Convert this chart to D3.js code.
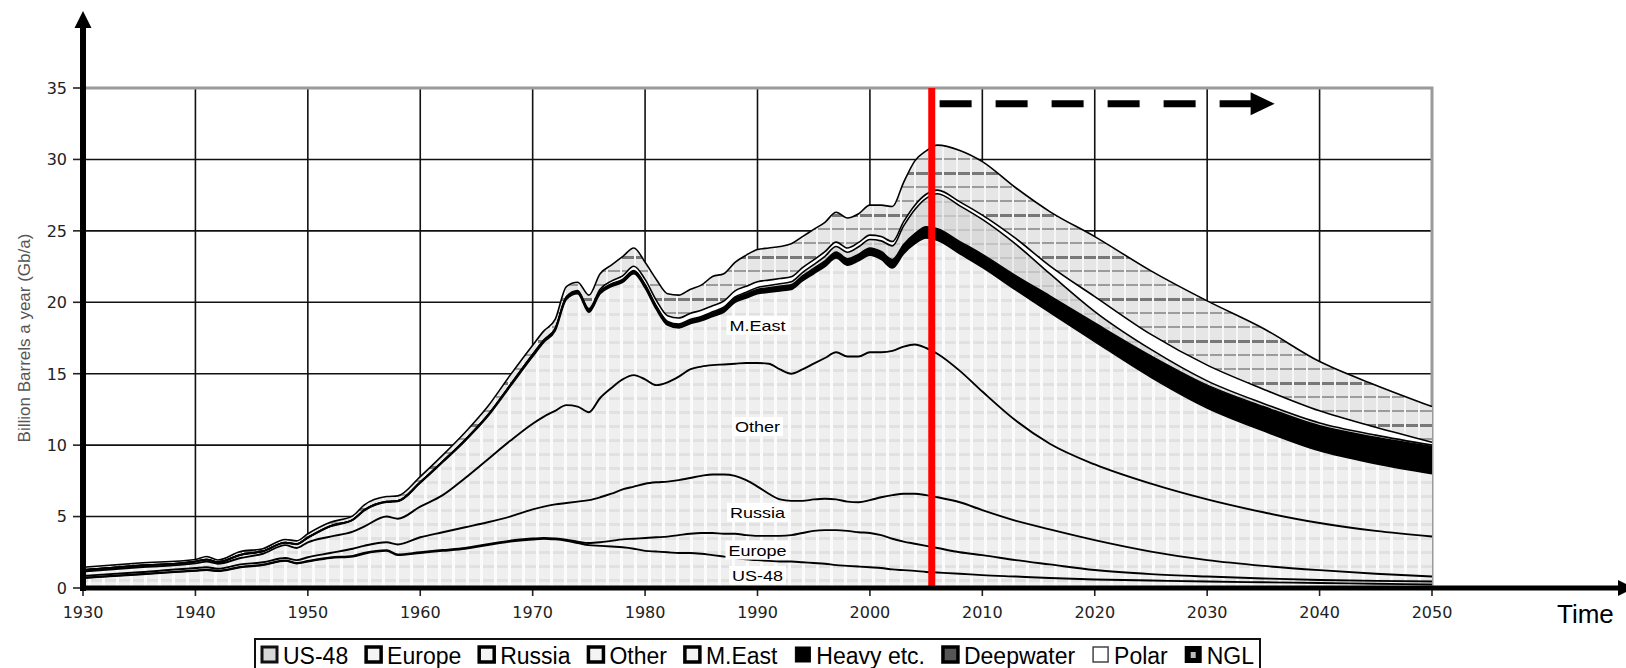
<!DOCTYPE html>
<html><head><meta charset="utf-8">
<script src="https://cdn.jsdelivr.net/npm/d3@7"></script>
<style>html,body{margin:0;padding:0;background:#fff;overflow:hidden}</style>
</head><body>
<svg id="chart" width="1626" height="668"></svg>
<script>
// ---------------- data (Gb/a) ----------------
const years = [1930,1935,1940,1941,1942,1944,1946,1948,1949,1950,
  1952,1954,1955,1957,1958,1960,1962,1964,1966,1968,
  1970,1971,1972,1973,1974,1975,1976,1977,1978,1979,
  1980,1981,1982,1983,1984,1985,1986,1987,1988,1989,
  1990,1991,1992,1993,1994,1995,1996,1997,1998,1999,
  2000,2001,2002,2003,2004,2005,2006,
  2008,2010,2013,2016,2020,2025,2030,2035,2040,2045,2050];
const us48 = [0.70,0.95,1.20,1.25,1.18,1.45,1.60,1.90,1.72,1.85,
  2.10,2.20,2.40,2.60,2.30,2.45,2.60,2.75,3.00,3.25,
  3.40,3.45,3.40,3.30,3.15,3.00,2.95,2.90,2.85,2.75,
  2.60,2.55,2.50,2.45,2.45,2.40,2.30,2.20,2.10,2.00,
  1.95,1.90,1.85,1.85,1.80,1.75,1.70,1.60,1.55,1.50,
  1.45,1.40,1.30,1.25,1.20,1.12,1.08,
  1.00,0.90,0.80,0.70,0.60,0.52,0.45,0.40,0.35,0.30,0.25];
const europe = [0.02,0.02,0.03,0.03,0.03,0.03,0.03,0.03,0.03,0.04,
  0.04,0.05,0.05,0.05,0.05,0.06,0.06,0.06,0.06,0.06,
  0.06,0.06,0.07,0.08,0.10,0.15,0.25,0.40,0.55,0.70,
  0.90,1.00,1.10,1.25,1.35,1.45,1.55,1.60,1.70,1.70,
  1.70,1.75,1.80,1.85,2.05,2.25,2.35,2.45,2.45,2.40,
  2.40,2.30,2.15,2.00,1.90,1.83,1.72,
  1.50,1.40,1.15,0.95,0.66,0.45,0.35,0.27,0.21,0.20,0.20];
const russia = [0.13,0.13,0.17,0.17,0.14,0.17,0.17,0.17,0.20,0.26,
  0.31,0.50,0.50,0.55,0.70,1.04,1.24,1.44,1.54,1.69,
  2.04,2.19,2.38,2.57,2.80,3.00,3.15,3.30,3.50,3.65,
  3.80,3.85,3.85,3.85,3.90,4.00,4.10,4.15,4.05,3.85,
  3.45,2.95,2.55,2.40,2.25,2.20,2.20,2.15,2.05,2.10,
  2.30,2.65,3.05,3.35,3.50,3.55,3.55,
  3.50,3.15,2.75,2.45,2.09,1.58,1.15,0.88,0.69,0.50,0.35];
const other = [0.30,0.35,0.32,0.40,0.35,0.45,0.60,0.90,0.85,1.05,
  1.15,1.20,1.35,1.80,1.80,2.15,2.60,3.45,4.40,5.30,
  6.00,6.30,6.55,6.85,6.65,6.15,6.95,7.40,7.70,7.80,
  7.30,6.80,6.95,7.25,7.60,7.65,7.65,7.70,7.85,8.20,
  8.65,9.10,9.10,8.90,9.20,9.50,9.85,10.30,10.15,10.20,
  10.35,10.15,10.10,10.30,10.45,10.30,10.05,
  9.20,8.30,7.00,6.00,5.30,4.75,4.25,3.75,3.30,3.00,2.80];
const mEast = [0.10,0.10,0.12,0.13,0.10,0.20,0.15,0.15,0.25,0.30,
  0.70,0.80,1.10,1.00,1.20,1.65,2.30,2.60,3.00,3.80,
  4.70,5.20,5.60,7.40,7.90,7.00,7.30,7.10,6.80,7.10,
  6.40,5.30,4.00,3.40,3.20,3.20,3.40,3.65,4.30,4.55,
  4.85,5.00,5.50,5.90,6.20,6.30,6.40,6.60,6.40,6.70,
  6.80,6.50,5.80,6.50,7.05,7.70,7.95,
  8.20,8.70,9.15,9.20,8.60,7.45,6.40,5.70,5.05,4.70,4.40];
const heavy = [0.02,0.02,0.02,0.02,0.02,0.03,0.03,0.03,0.03,0.04,
  0.04,0.04,0.05,0.05,0.05,0.06,0.07,0.08,0.09,0.10,
  0.12,0.12,0.13,0.14,0.15,0.15,0.16,0.16,0.17,0.18,
  0.20,0.20,0.20,0.22,0.23,0.24,0.25,0.26,0.27,0.28,
  0.30,0.31,0.32,0.33,0.35,0.37,0.40,0.42,0.45,0.47,
  0.50,0.55,0.60,0.65,0.70,0.78,0.80,
  0.85,0.90,1.00,1.15,1.30,1.50,1.60,1.70,1.75,1.85,1.90];
const deepwater = [0,0,0,0,0,0,0,0,0,0,
  0,0,0,0,0,0,0,0,0,0,
  0,0,0,0,0,0,0.01,0.02,0.03,0.04,
  0.05,0.05,0.06,0.06,0.07,0.07,0.08,0.09,0.10,0.12,
  0.14,0.16,0.18,0.20,0.23,0.27,0.32,0.38,0.45,0.52,
  0.60,0.75,0.95,1.30,1.70,2.00,2.45,
  2.50,2.45,2.20,1.55,0.80,0.45,0.30,0.22,0.20,0.15,0.10];
const polar = [0,0,0,0,0,0,0,0,0,0,
  0,0,0,0,0,0,0,0,0,0.02,
  0.05,0.05,0.05,0.06,0.08,0.10,0.15,0.20,0.25,0.30,
  0.35,0.38,0.40,0.42,0.42,0.43,0.43,0.43,0.43,0.42,
  0.40,0.38,0.36,0.35,0.34,0.33,0.32,0.31,0.30,0.30,
  0.30,0.30,0.30,0.30,0.30,0.28,0.25,
  0.28,0.30,0.40,0.55,1.05,1.05,1.10,1.00,0.85,0.55,0.20];
const ngl = [0.18,0.18,0.14,0.20,0.14,0.22,0.17,0.22,0.22,0.26,
  0.26,0.26,0.35,0.35,0.35,0.39,0.43,0.52,0.61,0.68,
  0.63,0.63,0.62,0.70,0.57,0.95,1.08,1.12,1.35,1.28,
  1.20,1.47,1.54,1.60,1.68,1.76,2.04,1.92,2.00,2.18,
  2.26,2.25,2.24,2.32,2.18,2.13,2.06,2.09,2.10,2.01,
  2.10,2.20,2.45,2.75,3.10,3.04,3.15,
  3.60,3.75,3.55,3.80,4.20,4.45,4.50,4.25,3.45,2.95,2.50];

const seriesNames = ["US-48","Europe","Russia","Other","M.East","Heavy etc.","Deepwater","Polar","NGL"];
const seriesValues = [us48, europe, russia, other, mEast, heavy, deepwater, polar, ngl];
const xTicks = [1930,1940,1950,1960,1970,1980,1990,2000,2010,2020,2030,2040,2050];
const yTicks = [0,5,10,15,20,25,30,35];
const areaLabelNames = ["M.East","Other","Russia","Europe","US-48"];
const areaLabelYears = [1990,1990,1990,1990,1990];
const areaLabelValues = [18.4,11.3,5.3,2.65,0.9];
const forecastYear = 2005.5;
const arrowFromYear = 2006.2, arrowToYear = 2036, arrowLevel = 33.9;
const yAxisTitle = "Billion Barrels a year (Gb/a)";
const xAxisTitle = "Time";

// ---------------- drawing ----------------
const svg = d3.select("#chart");
const x = d3.scaleLinear().domain([1930, 2050]).range([83, 1432]);
const y = d3.scaleLinear().domain([0, 35]).range([588, 88]);
const SANS = "'Liberation Sans', Arial, sans-serif";
const TICKFONT = "'DejaVu Sans', Verdana, sans-serif";

const rows = years.map((yr, i) => {
  const r = {year: yr};
  seriesNames.forEach((n, k) => r[n] = seriesValues[k][i]);
  return r;
});
const stacked = d3.stack().keys(seriesNames)(rows);

// patterns
const defs = svg.append("defs");
function pat(id, w, h) {
  return defs.append("pattern").attr("id", id).attr("patternUnits", "userSpaceOnUse")
    .attr("width", w).attr("height", h);
}
const pb = pat("pBase", 14, 14);
pb.append("rect").attr("width", 14).attr("height", 14).attr("fill", "#efefef");
pb.append("rect").attr("y", 5).attr("width", 14).attr("height", 3).attr("fill", "#e1e1e1");
pb.append("rect").attr("x", 4).attr("width", 3).attr("height", 14).attr("fill", "#fbfbfb");

const pd = pat("pDeep", 14, 14);
pd.append("rect").attr("width", 14).attr("height", 14).attr("fill", "#dadada");
pd.append("rect").attr("y", 5).attr("width", 14).attr("height", 2).attr("fill", "#c4c4c4");
pd.append("rect").attr("x", 4).attr("width", 2).attr("height", 14).attr("fill", "#eaeaea");

const pn = pat("pNGL", 14, 42);
pn.append("rect").attr("width", 14).attr("height", 42).attr("fill", "#e6e6e6");
pn.append("rect").attr("y", 4).attr("width", 14).attr("height", 3).attr("fill", "#787878");
pn.append("rect").attr("y", 18).attr("width", 14).attr("height", 2).attr("fill", "#9c9c9c");
pn.append("rect").attr("y", 32).attr("width", 14).attr("height", 2).attr("fill", "#9c9c9c");
pn.append("rect").attr("x", 4).attr("width", 2).attr("height", 42).attr("fill", "#f6f6f6");

const fills = ["url(#pBase)","url(#pBase)","url(#pBase)","url(#pBase)","url(#pBase)",
  "#000","url(#pDeep)","#ffffff","url(#pNGL)"];

// grid
const grid = svg.append("g");
yTicks.filter(v => v > 0 && v < 35).forEach(v => {
  grid.append("line").attr("x1", x(1930)).attr("x2", x(2050)).attr("y1", y(v)).attr("y2", y(v))
    .attr("stroke", "#111").attr("stroke-width", 1.6);
});
xTicks.filter(t => t > 1930 && t < 2050).forEach(t => {
  grid.append("line").attr("x1", x(t)).attr("x2", x(t)).attr("y1", y(35)).attr("y2", y(0))
    .attr("stroke", "#111").attr("stroke-width", 1.6);
});
grid.append("path").attr("d", `M${x(1930)},${y(35)} H${x(2050)} V${y(0)}`)
  .attr("fill", "none").attr("stroke", "#9a9a9a").attr("stroke-width", 3);

// areas
const area = d3.area().x(d => x(d.data.year)).y0(d => y(d[0])).y1(d => y(d[1])).curve(d3.curveMonotoneX);
const line = d3.line().x(d => x(d.data.year)).y(d => y(d[1])).curve(d3.curveMonotoneX);
svg.append("g").selectAll("path").data(stacked).join("path")
  .attr("d", area).attr("fill", (d, i) => fills[i]);
svg.append("g").selectAll("path").data(stacked).join("path")
  .attr("d", line).attr("fill", "none").attr("stroke", "#000")
  .attr("stroke-width", (d, i) => i < 4 ? 1.9 : 1.6).attr("stroke-linejoin", "round");

// area labels with white boxes
areaLabelNames.forEach((name, i) => {
  const g = svg.append("g");
  const t = g.append("text").attr("x", x(areaLabelYears[i])).attr("y", y(areaLabelValues[i]) + 5.5)
    .attr("text-anchor", "middle").attr("font-family", SANS).attr("font-size", 15)
    .attr("fill", "#000").text(name);
  const nat = t.node().getComputedTextLength();
  t.attr("textLength", nat * 1.2).attr("lengthAdjust", "spacingAndGlyphs");
  const bb = t.node().getBBox();
  g.insert("rect", "text").attr("x", bb.x - 3).attr("y", bb.y - 1)
    .attr("width", bb.width + 6).attr("height", bb.height + 2).attr("fill", "#fff");
});

// red forecast line
svg.append("line").attr("x1", x(forecastYear)).attr("x2", x(forecastYear))
  .attr("y1", y(35)).attr("y2", y(0)).attr("stroke", "#ff0000").attr("stroke-width", 7);

// dashed arrow
const ay = y(arrowLevel), ax0 = x(arrowFromYear), ax1 = x(arrowToYear);
svg.append("line").attr("x1", ax0).attr("x2", ax1 - 23).attr("y1", ay).attr("y2", ay)
  .attr("stroke", "#000").attr("stroke-width", 7).attr("stroke-dasharray", "32,24");
svg.append("path").attr("d", `M${ax1},${ay} L${ax1 - 24},${ay - 11.5} L${ax1 - 24},${ay + 11.5} Z`).attr("fill", "#000");

// axes
const axes = svg.append("g");
yTicks.forEach(v => {
  axes.append("line").attr("x1", 73).attr("x2", x(1930)).attr("y1", y(v)).attr("y2", y(v))
    .attr("stroke", "#222").attr("stroke-width", 1.6);
  axes.append("text").attr("x", 67).attr("y", y(v) + 5.8).attr("text-anchor", "end")
    .attr("font-family", TICKFONT).attr("font-size", 16).attr("fill", "#222").text(v);
});
xTicks.forEach(t => {
  axes.append("line").attr("x1", x(t)).attr("x2", x(t)).attr("y1", y(0)).attr("y2", y(0) + 8)
    .attr("stroke", "#222").attr("stroke-width", 1.6);
  axes.append("text").attr("x", x(t)).attr("y", 618).attr("text-anchor", "middle")
    .attr("font-family", TICKFONT).attr("font-size", 16).attr("fill", "#222").text(t);
});
axes.append("line").attr("x1", x(1930)).attr("x2", x(1930)).attr("y1", y(0) + 3).attr("y2", 26)
  .attr("stroke", "#000").attr("stroke-width", 6);
axes.append("path").attr("d", `M${x(1930)},11 L${x(1930) - 8.5},28 L${x(1930) + 8.5},28 Z`).attr("fill", "#000");
axes.append("line").attr("x1", x(1930) - 3).attr("x2", 1620).attr("y1", y(0)).attr("y2", y(0))
  .attr("stroke", "#000").attr("stroke-width", 5);
axes.append("path").attr("d", `M1634,${y(0)} L1618,${y(0) - 8} L1618,${y(0) + 8} Z`).attr("fill", "#000");

// axis titles
svg.append("text").attr("transform", `translate(24,338) rotate(-90)`).attr("text-anchor", "middle")
  .attr("dominant-baseline", "central").attr("font-family", SANS).attr("font-size", 17)
  .attr("fill", "#555").text(yAxisTitle);
svg.append("text").attr("x", 1557).attr("y", 623).attr("font-family", SANS).attr("font-size", 26)
  .attr("fill", "#000").text(xAxisTitle);

// legend
const lg = svg.append("g");
const boxX = 255, boxY = 639, boxW = 1005;
lg.append("rect").attr("x", boxX).attr("y", boxY).attr("width", boxW).attr("height", 40)
  .attr("fill", "#fff").attr("stroke", "#111").attr("stroke-width", 2);
const iconFill = ["#d8d8d8","#f4f4f4","#f4f4f4","#f4f4f4","#f4f4f4","#000","#555","#fff","#000"];
const iconStroke = ["#111","#000","#000","#000","#000","#000","#000","#444","#000"];
const iconSW = [3,3.5,3.5,3.5,3.5,1,3.5,1.5,2];
const texts = seriesNames.map(n => lg.append("text").attr("y", 664).attr("font-family", SANS)
  .attr("font-size", 23).attr("fill", "#000").text(n));
const widths = texts.map(t => t.node().getComputedTextLength());
const iconS = 15, iconGap = 5, pad = 6;
const fixed = d3.sum(widths) + seriesNames.length * (iconS + 2 + iconGap);
const gap = (boxW - 2 * pad - fixed) / (seriesNames.length - 1);
let cx = boxX + pad;
seriesNames.forEach((n, i) => {
  lg.append("rect").attr("x", cx + 1).attr("y", 647).attr("width", iconS).attr("height", iconS)
    .attr("fill", iconFill[i]).attr("stroke", iconStroke[i]).attr("stroke-width", iconSW[i]);
  if (i === 8) {
    lg.append("rect").attr("x", cx + 6).attr("y", 652).attr("width", 5).attr("height", 6).attr("fill", "#bbb");
  }
  cx += iconS + 2 + iconGap;
  texts[i].attr("x", cx);
  cx += widths[i] + gap;
});
</script>
</body></html>
